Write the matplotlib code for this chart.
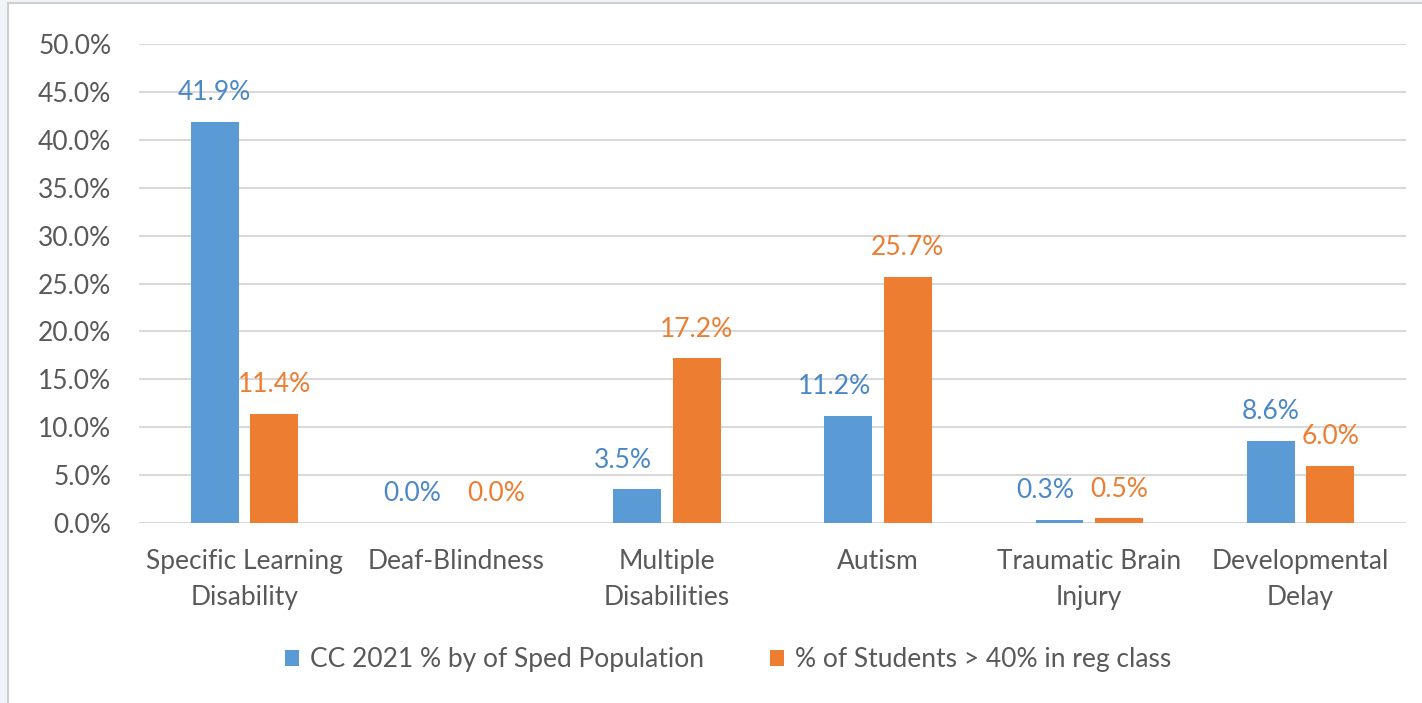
import matplotlib.pyplot as plt
from matplotlib.patches import Rectangle
import numpy as np

plt.rcParams['font.family'] = ['Lato', 'DejaVu Sans']

categories = ['Specific Learning\nDisability', 'Deaf-Blindness', 'Multiple\nDisabilities',
              'Autism', 'Traumatic Brain\nInjury', 'Developmental\nDelay']
sped_pct = [41.9, 0.0, 3.5, 11.2, 0.3, 8.6]
reg_class_pct = [11.4, 0.0, 17.2, 25.7, 0.5, 6.0]
series_names = ['CC 2021 % by of Sped Population', '% of Students > 40% in reg class']
yticks = [0, 5, 10, 15, 20, 25, 30, 35, 40, 45, 50]

blue = '#5B9BD5'
blue_text = '#4A88C7'
orange = '#ED7D31'
gray_text = '#595959'
fs = 19

fig = plt.figure(figsize=(14.22, 7.03), dpi=100)
fig.patch.set_facecolor('#EEF4F8')
# white chart panel with a thin grey frame
fig.patches.append(Rectangle((8 / 1422, -0.01), 1.02, 1 - 3 / 703 + 0.01, transform=fig.transFigure,
                             facecolor='white', edgecolor='#CFCFCF', linewidth=1.5, zorder=-10))

ax = fig.add_axes([139 / 1422, 1 - 523 / 703, (1406 - 139) / 1422, (523 - 44) / 703])
ax.set_facecolor('none')
ax.set_zorder(1)

x = np.arange(len(categories))
w = 0.227
off = 0.141
b1 = ax.bar(x - off, sped_pct, w, color=blue, label=series_names[0], zorder=3)
b2 = ax.bar(x + off, reg_class_pct, w, color=orange, label=series_names[1], zorder=3)

# value labels; push them apart where they would run into the neighbouring bar/label
for i in range(len(categories)):
    s, r = sped_pct[i], reg_class_pct[i]
    dx_blue = -10 if r >= s else 0
    dx_orange = 8 if r == s else 0
    ax.annotate(f'{s:.1f}%', (x[i] - off, s), xytext=(dx_blue, 12), textcoords='offset points',
                ha='center', va='bottom', color=blue_text, fontsize=fs)
    ax.annotate(f'{r:.1f}%', (x[i] + off, r), xytext=(dx_orange, 12), textcoords='offset points',
                ha='center', va='bottom', color=orange, fontsize=fs)

ax.set_xlim(-0.5, len(categories) - 0.5)
ax.set_ylim(0, 50)
ax.set_yticks(yticks)
ax.set_yticklabels([f'{t:.1f}%' for t in yticks])
ax.set_xticks(x)
ax.set_xticklabels(categories, linespacing=1.55)
ax.tick_params(axis='both', length=0, labelsize=fs, colors=gray_text)
ax.tick_params(axis='y', pad=20)
ax.tick_params(axis='x', pad=19)
ax.grid(axis='y', color='#D9D9D9', linewidth=1.5, zorder=0)
for sp in ax.spines.values():
    sp.set_visible(False)

leg = fig.legend(loc='center', bbox_to_anchor=(0.5 + 17 / 1422, 1 - 660 / 703), ncol=2, frameon=False,
                 fontsize=fs, handlelength=0.55, handleheight=0.55, handletextpad=0.4,
                 columnspacing=2.5)
for t in leg.get_texts():
    t.set_color(gray_text)

fig.savefig('out.png', dpi=100, facecolor=fig.get_facecolor())
